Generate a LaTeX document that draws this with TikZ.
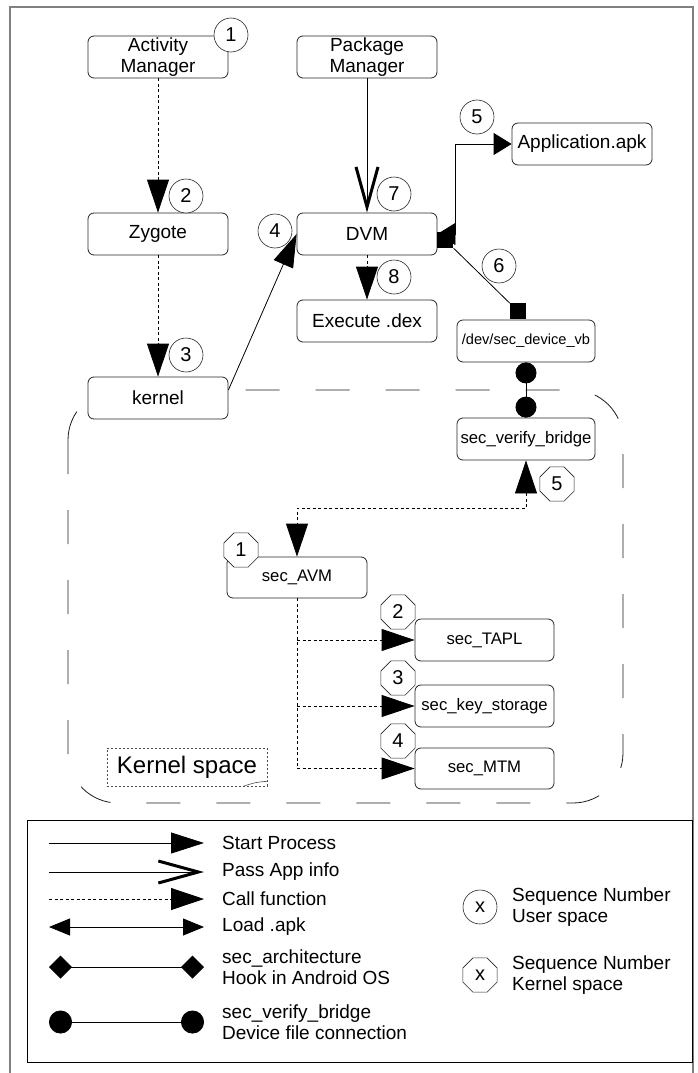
\documentclass[tikz,border=0pt]{standalone}
\usepackage{fontspec}
\setmainfont{Liberation Sans}
\usetikzlibrary{arrows.meta,shapes.geometric}

\begin{document}
\begin{tikzpicture}[x=1pt,y=-1pt,
    box/.style={draw=black!85, line width=0.8pt, rounded corners=6pt, fill=white,
      minimum width=140pt, minimum height=42pt, inner sep=1pt, align=center,
      font=\fontsize{19}{21.5}\selectfont},
    kbox/.style={box, minimum width=139pt, font=\fontsize{16.7}{19}\selectfont},
    seqno/.style={draw=black!85, circle, line width=0.6pt, fill=white, minimum size=34pt,
      inner sep=0pt, font=\fontsize{20}{20}\selectfont},
    kseqno/.style={seqno, regular polygon, regular polygon sides=8, minimum size=37pt},
    startarr/.style={line width=0.8pt, -{Triangle[length=33pt,width=21pt]}},
    passarr/.style={line width=0.8pt, -{Straight Barb[length=40pt,width=22pt,line width=3pt]}},
    callarr/.style={line width=0.8pt, dash pattern=on 3pt off 2.5pt, -{Triangle[length=33pt,width=22pt]}},
    loadarr/.style={line width=0.8pt, {Triangle[length=18pt,width=22pt]}-{Triangle[length=18pt,width=22pt]}},
    hooksq/.style={fill=black, minimum size=16pt, inner sep=0pt},
    bridge/.style={line width=0.8pt, {Circle[length=21pt]}-{Circle[length=21pt]}},
    legtext/.style={anchor=west, align=left, inner sep=0pt, font=\fontsize{19}{21.5}\selectfont}]
    \useasboundingbox (0,0) rectangle (697,1073);
    % Outer frame
    \draw[gray, line width=1.5pt] (10,1073) -- (10,7) -- (693,7) -- (693,1073);

    % Kernel space region
    \draw[black!90, line width=0.8pt, rounded corners=50pt, dash pattern=on 34pt off 36pt]
        (68,390) rectangle (623,803);
    \node[draw=black!70, line width=0.6pt, dash pattern=on 2pt off 2pt, minimum width=160pt,
        minimum height=38pt, inner sep=0pt, font=\fontsize{24}{24}\selectfont]
        (kspace) at (187,767) {Kernel space};
    \draw[black!70, line width=0.6pt] ([xshift=-24pt]kspace.south east) .. controls ([xshift=-12pt,yshift=4pt]kspace.south east) .. ([yshift=5pt]kspace.south east);

    % User space boxes
    \node[box] (am) at (158,57) {Activity\\Manager};
    \node[box] (pm) at (367,57) {Package\\Manager};
    \node[box] (zy) at (158,234) {Zygote};
    \node[box] (dvm) at (367,234) {DVM};
    \node[box] (ex) at (367,321) {Execute .dex};
    \node[box] (kn) at (158,398) {kernel};
    \node[box] (app) at (582,144) {Application.apk};
    \node[kbox, minimum width=138pt, font=\fontsize{14.6}{17}\selectfont] (dev) at (526,341) {/dev/sec\_device\_vb};

    % Kernel space boxes
    \node[kbox, minimum width=138pt] (svb) at (526,439) {sec\_verify\_bridge};
    \node[kbox, minimum width=140pt, minimum height=41pt] (avm) at (297,577.5) {sec\_AVM};
    \node[kbox] (tapl) at (484.5,640) {sec\_TAPL};
    \node[kbox] (key) at (484.5,706) {sec\_key\_storage};
    \node[kbox, minimum height=41pt] (mtm) at (484.5,768.5) {sec\_MTM};

    % Connectors in user space
    \draw[callarr] (am) -- (zy);
    \draw[callarr] (zy) -- (kn);
    \draw[startarr] ([yshift=8pt]kn.east) -- (dvm.west);
    \draw[passarr] (pm) -- (dvm);
    \draw[callarr] (dvm) -- (ex);
    \draw[loadarr] (dvm.east) -- ++(18,0) |- (app.west);
    \node[hooksq] (hk1) at ([xshift=8pt,yshift=-6pt]dvm.east) {};
    \node[hooksq, anchor=south] (hk2) at ([xshift=-8pt]dev.north) {};
    \draw[line width=0.8pt] (hk1.south east) -- (hk2.north west);
    \draw[bridge] (dev.south) -- (svb.north);

    % Connectors in kernel space
    \draw[callarr, {Triangle[length=33pt,width=22pt]}-{Triangle[length=33pt,width=22pt]}]
        (svb.south) -- ++(0,48) -| (avm.north);
    \draw[line width=0.8pt, dash pattern=on 3pt off 2.5pt] (avm.south) -- (avm.south |- mtm.west);
    \foreach \target in {tapl, key, mtm} {
        \draw[callarr] (avm.south |- \target.west) -- (\target.west);
    }

    % Sequence numbers
    \foreach \n/\x/\y in {1/231/35, 2/186/196, 3/186/355, 4/275/231, 5/477/117, 6/499/266, 7/394/194, 8/394/277} {
        \node[seqno] (u\n) at (\x,\y) {\n};
    }
    \foreach \n/\x/\y in {1/241/550, 2/398/612, 3/398/678, 4/398/741, 5/557/484} {
        \node[kseqno] (k\n) at (\x,\y) {\n};
    }

    % Legend
    \draw[line width=0.8pt] (27,820) rectangle (692,1062);
    \foreach \n/\y in {sp/843, pa/872, cf/899, ld/927, hk/967, vb/1022} {
        \coordinate (\n a) at (49,\y);
        \coordinate (\n b) at (204,\y);
    }
    \draw[startarr] (spa) -- (spb);
    \draw[passarr] (paa) -- (pab);
    \draw[callarr] (cfa) -- (cfb);
    \draw[line width=0.8pt, {Triangle[length=21pt,width=17pt]}-{Triangle[length=21pt,width=17pt]}] (lda) -- (ldb);
    \draw[line width=0.8pt, {Diamond[length=23pt,width=23pt]}-{Diamond[length=23pt,width=23pt]}] (hka) -- (hkb);
    \draw[line width=0.8pt, {Circle[length=23pt]}-{Circle[length=23pt]}] (vba) -- (vbb);
    \node[legtext] (lsp) at (222,843) {Start Process};
    \node[legtext] (lpa) at (222,872) {Pass App info};
    \node[legtext] (lcf) at (222,899) {Call function};
    \node[legtext] (lld) at (222,927) {Load .apk};
    \node[legtext] (lhk) at (222,967) {sec\_architecture\\Hook in Android OS};
    \node[legtext] (lvb) at (222,1022) {sec\_verify\_bridge\\Device file connection};
    \node[seqno] (lu) at (480,907) {x};
    \node[kseqno] (lk) at (480,975) {x};
    \node[legtext] (lus) at (512,907) {Sequence Number\\User space};
    \node[legtext] (lks) at (512,975) {Sequence Number\\Kernel space};
\end{tikzpicture}
\end{document}
